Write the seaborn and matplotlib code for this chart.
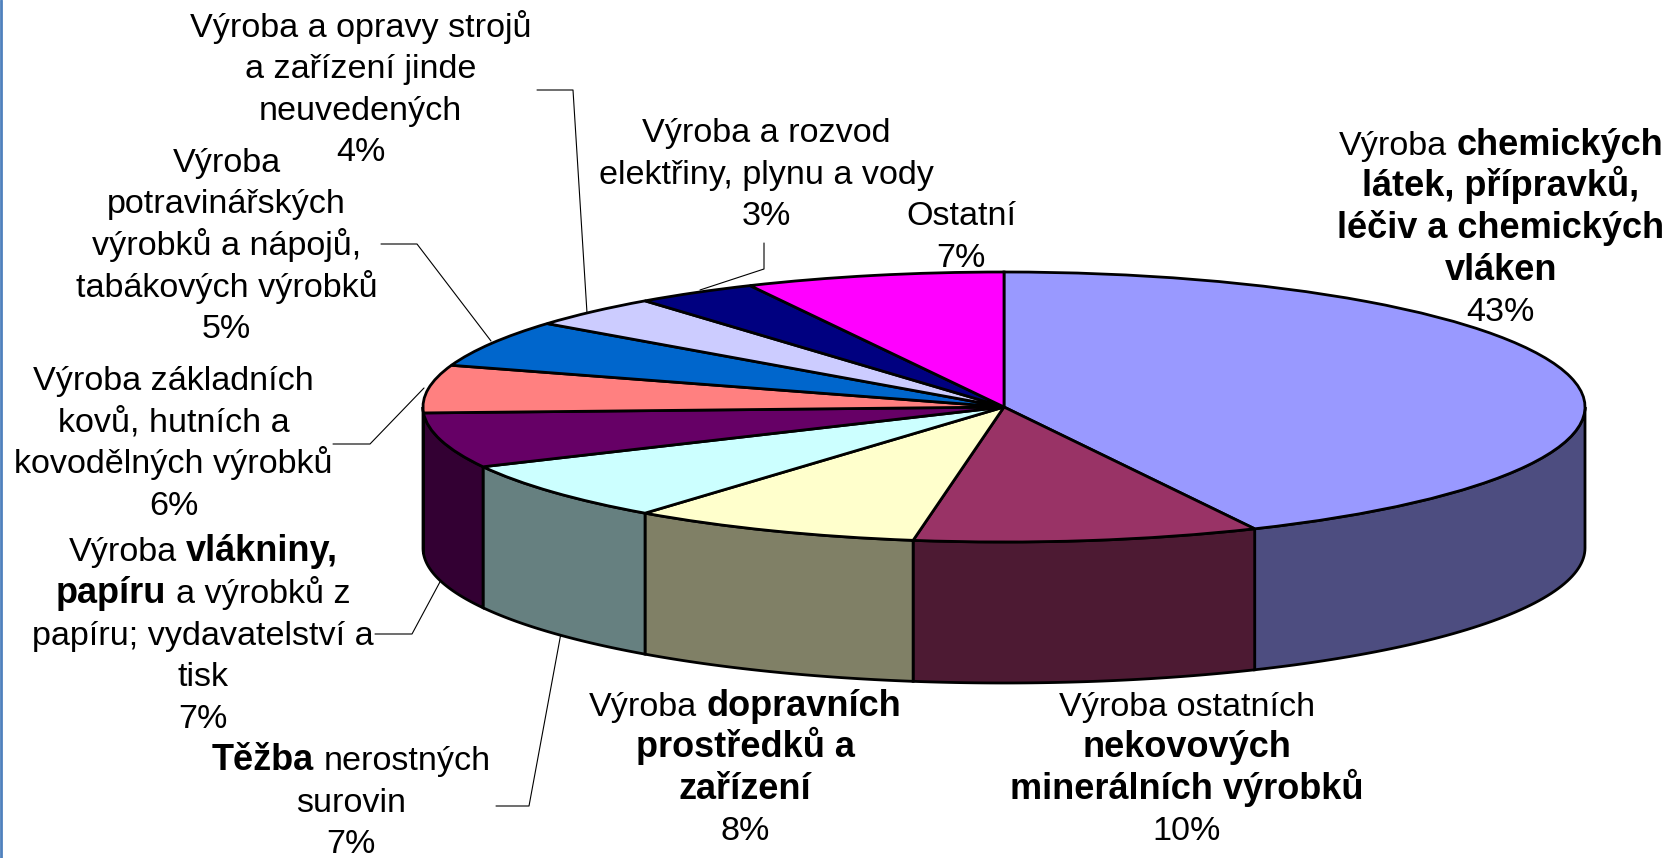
import matplotlib.pyplot as plt
import matplotlib.transforms as mtransforms
import numpy as np
import seaborn as sns

# shares read from the slice boundaries, clockwise from the top
shares = [42.9, 9.6, 8.1, 7.1, 6.6, 5.7, 5.6, 3.8, 3.4, 7.2]
top_colors = [
    "#9999FF", "#993366", "#FFFFCC", "#CCFFFF", "#660066",
    "#FF8080", "#0066CC", "#CCCCFF", "#000080", "#FF00FF",
]
percents = ["43%", "10%", "8%", "7%", "7%", "6%", "5%", "4%", "3%", "7%"]

R = False
B = True
chem_lines = [
    [("Výroba", R), ("chemických", B)],
    [("látek, přípravků,", B)],
    [("léčiv a chemických", B)],
    [("vláken", B)],
]
nekov_lines = [
    [("Výroba ostatních", R)],
    [("nekovových", B)],
    [("minerálních výrobků", B)],
]
doprava_lines = [
    [("Výroba", R), ("dopravních", B)],
    [("prostředků a", B)],
    [("zařízení", B)],
]
tezba_lines = [
    [("Těžba", B), ("nerostných", R)],
    [("surovin", R)],
]
papir_lines = [
    [("Výroba", R), ("vlákniny,", B)],
    [("papíru", B), ("a výrobků z", R)],
    [("papíru; vydavatelství a", R)],
    [("tisk", R)],
]
kovy_lines = [
    [("Výroba základních", R)],
    [("kovů, hutních a", R)],
    [("kovodělných výrobků", R)],
]
potraviny_lines = [
    [("Výroba", R)],
    [("potravinářských", R)],
    [("výrobků a nápojů,", R)],
    [("tabákových výrobků", R)],
]
stroje_lines = [
    [("Výroba a opravy strojů", R)],
    [("a zařízení jinde", R)],
    [("neuvedených", R)],
]
energie_lines = [
    [("Výroba a rozvod", R)],
    [("elektřiny, plynu a vody", R)],
]
ostatni_lines = [
    [("Ostatní", R)],
]
label_lines = [
    chem_lines, nekov_lines, doprava_lines, tezba_lines, papir_lines,
    kovy_lines, potraviny_lines, stroje_lines, energie_lines, ostatni_lines,
]

W, H = 1669, 858
CX, CY, RX, RY, DEPTH = 1004, 407, 581, 135, 141
FONT_SIZE = 24.6
BOLD_SIZE = 26
SCALE = 1669 / 1568

# centre x and first line y of each label, as measured on the shrunk picture
label_pos = [
    (1410, 135), (1115, 662), (700, 662), (330, 713), (191, 517),
    (163, 356), (213, 151), (339, 24), (720, 123), (903, 201),
]
line_step = 39.1

leaders = [
    [(537, 90), (573, 90), (587, 313)],
    [(381, 244), (417, 244), (491, 341)],
    [(333, 444), (370, 444), (424, 388)],
    [(375, 634), (412, 634), (441, 580)],
    [(496, 806), (529, 806), (561, 633)],
    [(764, 243), (764, 269), (700, 290)],
]

sns.set_theme(style="white")
plt.rcParams["font.family"] = ["Liberation Sans", "DejaVu Sans"]
palette = sns.color_palette(top_colors)
side_palette = [tuple(c * 0.5 for c in col) for col in palette]

fig = plt.figure(figsize=(W / 100, H / 100), dpi=100)
ax = fig.add_axes([0, 0, 1, 1])
to_px = mtransforms.Affine2D().scale(1 / W, -1 / H).translate(0, 1) + fig.transFigure

# side walls, front half only
edges = np.concatenate([[0], np.cumsum(shares)]) / np.sum(shares)
for i in range(len(shares)):
    lo = max(edges[i], 0.25)
    hi = min(edges[i + 1], 0.75)
    if lo >= hi:
        continue
    theta = np.pi / 2 - 2 * np.pi * np.linspace(lo, hi, 60)
    xs = np.cos(theta)
    ys = np.sin(theta)
    drop = DEPTH / RY
    ax.fill(
        np.concatenate([xs, xs[::-1]]),
        np.concatenate([ys, ys[::-1] - drop]),
        facecolor=side_palette[i],
        edgecolor="black",
        linewidth=2,
        zorder=1,
    )

wedges, _ = ax.pie(
    shares,
    colors=palette,
    startangle=90,
    counterclock=False,
    radius=1,
    wedgeprops={"edgecolor": "black", "linewidth": 2, "zorder": 2},
)
ax.set_aspect("auto")
ax.set_xlim(-CX / RX, (W - CX) / RX)
ax.set_ylim(-(H - CY) / RY, CY / RY)
ax.axis("off")

for pts in leaders:
    xs, ys = zip(*pts)
    ax.plot(xs, ys, color="black", lw=0.8, transform=to_px, zorder=0, clip_on=False)

# thin frame remnant on the left edge
ax.plot([1, 1], [0, H], color="#4F81BD", lw=2, transform=to_px, clip_on=False)

renderer = fig.canvas.get_renderer()
space = 0.278 * FONT_SIZE * 100 / 72


def draw_line(cx, y, runs):
    items = []
    for txt, bold in runs:
        t = fig.text(
            0, 0, txt, fontsize=BOLD_SIZE if bold else FONT_SIZE, color="black",
            fontweight="bold" if bold else "normal",
            ha="left", va="baseline", transform=to_px,
        )
        items.append((t, t.get_window_extent(renderer).width))
    total = sum(w for _, w in items) + space * (len(items) - 1)
    x = cx - total / 2
    for t, w in items:
        t.set_position((x, y))
        x += w + space


for lines, pct, (cx, y0) in zip(label_lines, percents, label_pos):
    cx_px = cx * SCALE
    for k, runs in enumerate(lines + [[(pct, R)]]):
        draw_line(cx_px, (y0 + k * line_step) * SCALE + 11, runs)

fig.savefig("out.png", dpi=100, facecolor="white")
plt.close()
